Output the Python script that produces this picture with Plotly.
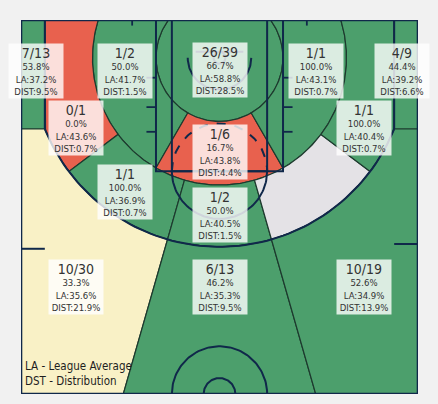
import numpy as np
import plotly.graph_objects as go

# ---- shooting data by zone ----
zones = ["Restricted", "Ring Left", "Ring Center", "Ring Right",
         "Mid Left Baseline", "Mid Left Wing", "Mid Center", "Mid Right Wing",
         "Mid Right Baseline", "Corner 3 Left", "Corner 3 Right",
         "Wing 3 Left", "Center 3", "Wing 3 Right"]
made = [26, 1, 1, 1, 0, 1, 1, 0, 1, 7, 4, 10, 6, 10]
attempts = [39, 2, 6, 1, 1, 1, 2, 0, 1, 13, 9, 30, 13, 19]
league_avg = [58.8, 41.7, 43.8, 43.1, 43.6, 36.9, 40.5, None, 40.4,
              37.2, 39.2, 35.6, 35.3, 34.9]

# label anchor for each zone (court units, basket at origin)
label_pos = {
    "Restricted": (0, 15), "Ring Left": (-119, 17), "Ring Center": (0, 118),
    "Ring Right": (121, 17), "Mid Left Baseline": (-181, 88),
    "Mid Left Wing": (-119, 169), "Mid Center": (0, 198),
    "Mid Right Baseline": (182, 88), "Corner 3 Left": (-231, 17),
    "Corner 3 Right": (230, 17), "Wing 3 Left": (-181, 288),
    "Center 3": (0, 288), "Wing 3 Right": (182, 288),
}

GREEN, RED, CREAM, EMPTY = "#4c9f6c", "#e8614e", "#f9f1c6", "#e4e2e6"
NAVY = "#10284a"
FONT = "DejaVu Sans Condensed, Roboto Condensed, Roboto"

# ---- court geometry ----
Y0, Y1 = -47.5, 422.5
R1, R2, R3, XC = 80.0, 160.0, 237.5, 220.0
A3 = np.degrees(np.arccos(XC / R3))
YC = R3 * np.sin(np.radians(A3))
B1 = np.degrees(np.arcsin(-Y0 / R1))
B2 = np.degrees(np.arcsin(-Y0 / R2))
SPLIT_L, SPLIT_R = 106.0, 74.0


def arc(r, a0, a1, n=80, cy=0.0):
    t = np.radians(np.linspace(a0, a1, n))
    return list(r * np.cos(t)), list(cy + r * np.sin(t))


def join(*parts):
    xs, ys = [], []
    for px, py in parts:
        xs += list(px)
        ys += list(py)
    return xs, ys


def ring(a0, a1, o0=None, o1=None, i0=None, i1=None):
    ox, oy = arc(R2, o0 if o0 is not None else a0, o1 if o1 is not None else a1)
    ix, iy = arc(R1, i1 if i1 is not None else a1, i0 if i0 is not None else a0)
    return join((ox, oy), (ix, iy))


def mid(a0, a1):
    return join(arc(R2, a0, a1), arc(R3, a1, a0))


xl = Y1 * np.cos(np.radians(SPLIT_L)) / np.sin(np.radians(SPLIT_L))
xr = Y1 * np.cos(np.radians(SPLIT_R)) / np.sin(np.radians(SPLIT_R))

polys = {
    "Restricted": arc(R1, -B1, 180 + B1),
    "Ring Left": ring(120, 180, o1=180 + B2, i1=180 + B1),
    "Ring Center": ring(60, 120),
    "Ring Right": ring(-1, 60, o0=-B2, i0=-B1),
    "Mid Left Baseline": join(arc(R2, 143, 180 + B2), ([-XC, -XC], [Y0, YC]),
                              arc(R3, 180 - A3, 143)),
    "Mid Left Wing": mid(SPLIT_L, 143),
    "Mid Center": mid(SPLIT_R, SPLIT_L),
    "Mid Right Wing": mid(37, SPLIT_R),
    "Mid Right Baseline": join(arc(R3, 37, A3), ([XC, XC], [YC, Y0]),
                               arc(R2, -B2, 37)),
    "Corner 3 Left": ([-250, -XC, -XC, -250], [Y0, Y0, YC, YC]),
    "Corner 3 Right": ([250, XC, XC, 250], [Y0, Y0, YC, YC]),
    "Wing 3 Left": join(([-250, -XC], [YC, YC]), arc(R3, 180 - A3, SPLIT_L),
                        ([xl, -250], [Y1, Y1])),
    "Center 3": join(arc(R3, SPLIT_L, SPLIT_R), ([xr, xl], [Y1, Y1])),
    "Wing 3 Right": join(arc(R3, SPLIT_R, A3), ([250, 250, xr], [YC, Y1, Y1])),
}

total = sum(attempts)


def zone_color(m, a, la):
    if a == 0 or la is None:
        return EMPTY
    pct = 100 * m / a
    if pct >= la:
        return GREEN
    if pct >= la - 5:
        return CREAM
    return RED


fig = go.Figure()

for name, m, a, la in zip(zones, made, attempts, league_avg):
    px, py = polys[name]
    fig.add_trace(go.Scatter(
        x=px + [px[0]], y=py + [py[0]], mode="lines", fill="toself",
        fillcolor=zone_color(m, a, la),
        line=dict(color="#1d3a2e", width=1.2), hoverinfo="skip",
        showlegend=False))


def court_line(xs, ys, width=2.0, dash=None):
    fig.add_trace(go.Scatter(
        x=list(xs), y=list(ys), mode="lines",
        line=dict(color=NAVY, width=width, dash=dash),
        hoverinfo="skip", showlegend=False))


# lane
court_line([-80, -80, 80, 80], [Y0, 142.5, 142.5, Y0])
court_line([-60, -60, 60, 60], [Y0, 142.5, 142.5, Y0])
# free throw circle
court_line(*arc(60, 0, 180, cy=142.5))
court_line(*arc(60, 180, 360, cy=142.5), dash="dash")
# restricted arc, hoop, backboard
court_line(*arc(40, 0, 180))
court_line(*arc(7.5, 0, 360))
court_line([-30, 30], [-7.5, -7.5])
# three point line
court_line([-XC, -XC], [Y0, YC])
court_line([XC, XC], [Y0, YC])
court_line(*arc(R3, A3, 180 - A3))
# center circles
court_line(*arc(60, 180, 360, cy=Y1))
court_line(*arc(20, 180, 360, cy=Y1))
# hash marks
for yy in (25, 62, 93):
    court_line([-80, -92], [yy, yy], width=1.8)
    court_line([80, 92], [yy, yy], width=1.8)
for xx in (-110, 110):
    court_line([xx, xx], [Y0, Y0 + 7], width=1.8)
court_line([-250, -220], [240, 240])
court_line([250, 220], [234, 234])
# outer boundary
court_line([-250, 250, 250, -250, -250], [Y0, Y0, Y1, Y1, Y0], width=2.6)

# zone labels
for name, m, a, la in zip(zones, made, attempts, league_avg):
    if a == 0:
        continue
    lx, ly = label_pos[name]
    txt = (f"<span style='font-size:14px'>{m}/{a}</span><br>"
           f"{100 * m / a:.1f}%<br>LA:{la:.1f}%<br>DIST:{100 * a / total:.1f}%")
    fig.add_annotation(
        x=lx, y=ly, text=txt, showarrow=False, width=52,
        bgcolor="rgba(255,255,255,0.8)", borderpad=1,
        font=dict(family=FONT, size=9.5, color="#333333"))

fig.add_annotation(
    x=-247, y=397, text="LA - League Average<br>DST - Distribution",
    showarrow=False, xanchor="left", yanchor="middle", align="left",
    font=dict(family=FONT, size=11.5, color="#1e1e1e"))

fig.update_xaxes(range=[-250, 250], visible=False, fixedrange=True)
fig.update_yaxes(range=[Y1, Y0], visible=False, fixedrange=True)
fig.update_layout(
    width=438, height=404, margin=dict(l=21, r=20, t=20, b=10),
    paper_bgcolor="#f1f1f1", plot_bgcolor="#f1f1f1", showlegend=False)

fig.write_html("out.html")
